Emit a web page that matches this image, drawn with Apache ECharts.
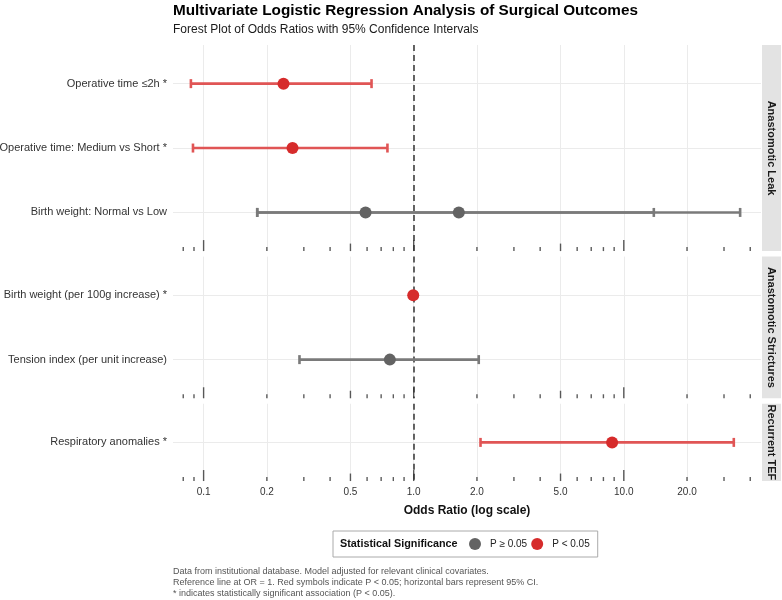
<!DOCTYPE html>
<html>
<head>
<meta charset="utf-8">
<script src="https://cdn.jsdelivr.net/npm/echarts@6/dist/echarts.min.js"></script>
<style>
  html, body { margin: 0; padding: 0; background: #fff; }
  #chart { width: 782px; height: 600px; }
</style>
</head>
<body>
<div id="chart"></div>
<script>
// facets and their row labels (top to bottom)
var facets = ['Anastomotic Leak', 'Anastomotic Strictures', 'Recurrent TEF'];
var facetRows = [
  ['Operative time ≤2h *', 'Operative time: Medium vs Short *', 'Birth weight: Normal vs Low'],
  ['Birth weight (per 100g increase) *', 'Tension index (per unit increase)'],
  ['Respiratory anomalies *']
];

// one entry per estimate
var estFacet = [0, 0, 0, 0, 1, 1, 2];
var estRow = [0, 1, 2, 2, 0, 1, 0];
var oddsRatio = [0.24, 0.265, 0.59, 1.64, 0.995, 0.77, 8.8];
var ciLower = [0.087, 0.089, 0.18, 0.18, 0.99, 0.286, 2.08];
var ciUpper = [0.63, 0.75, 13.9, 35.8, 1.0, 2.04, 33.4];
var significant = [1, 1, 0, 0, 1, 0, 1];

var xTickValues = [0.1, 0.2, 0.5, 1, 2, 5, 10, 20];
var logTickValues = [0.08, 0.09, 0.1, 0.2, 0.3, 0.4, 0.5, 0.6, 0.7, 0.8, 0.9,
  1, 2, 3, 4, 5, 6, 7, 8, 9, 10, 20, 30, 40];

var captionLines = [
  'Data from institutional database. Model adjusted for relevant clinical covariates.',
  'Reference line at OR = 1. Red symbols indicate P < 0.05; horizontal bars represent 95% CI.',
  '* indicates statistically significant association (P < 0.05).'
];

var FONT = '"Liberation Sans", Arial, sans-serif';
var RED = '#d62b2b', RED_BAR = '#e05555';
var GRAY = '#636363', GRAY_BAR = '#7a7a7a';
var xMin = 0.0715, xMax = 45;

// panel layout (height proportional to rows, like facet space = free)
var panelLeft = 173, panelRight = 761;
var unit = 64.4, gap = 5.5, top0 = 45;
var panels = [];
var t = top0;
facetRows.forEach(function (rows) {
  var h = (rows.length + 0.2) * unit;
  panels.push({ top: t, height: h });
  t += h + gap;
});

var chart = echarts.init(document.getElementById('chart'));

var grids = [], xAxes = [], yAxes = [], series = [], graphics = [];

function renderCI(params, api) {
  var y = api.value(2);
  var a = api.coord([api.value(0), y]);
  var b = api.coord([api.value(1), y]);
  var st = { stroke: api.value(3) ? RED_BAR : GRAY_BAR, lineWidth: 2.6 };
  var cap = 4.5;
  return {
    type: 'group',
    children: [
      { type: 'line', shape: { x1: a[0], y1: a[1], x2: b[0], y2: b[1] }, style: st },
      { type: 'line', shape: { x1: a[0], y1: a[1] - cap, x2: a[0], y2: a[1] + cap }, style: st },
      { type: 'line', shape: { x1: b[0], y1: b[1] - cap, x2: b[0], y2: b[1] + cap }, style: st }
    ]
  };
}

panels.forEach(function (p, g) {
  var rows = facetRows[g];
  var n = rows.length;
  var rowIdx = rows.map(function (r, i) { return i; });
  var last = g === panels.length - 1;

  grids.push({
    left: panelLeft, width: panelRight - panelLeft, top: p.top, height: p.height,
    containLabel: false, outerBoundsMode: 'none'
  });

  xAxes.push({
    type: 'log', logBase: 10, gridIndex: g, min: xMin, max: xMax,
    axisLine: { show: false },
    axisTick: { show: false, customValues: xTickValues },
    splitLine: { show: true, lineStyle: { color: '#ebebeb', width: 1 } },
    axisLabel: {
      show: last, customValues: xTickValues, margin: 6,
      fontFamily: FONT, fontSize: 10, color: '#333',
      formatter: function (v) { return v.toFixed(1); }
    },
    name: last ? 'Odds Ratio (log scale)' : '',
    nameLocation: 'middle', nameGap: 24,
    nameTextStyle: { fontFamily: FONT, fontSize: 12, fontWeight: 'bold', color: '#111' }
  });

  yAxes.push({
    type: 'value', gridIndex: g, inverse: true, min: -0.6, max: n - 0.4,
    axisLine: { show: false },
    axisTick: { show: false, customValues: rowIdx },
    splitLine: { show: true, lineStyle: { color: '#ebebeb', width: 1 } },
    axisLabel: {
      customValues: rowIdx, margin: 6,
      fontFamily: FONT, fontSize: 11, color: '#333',
      formatter: function (v) { return rows[Math.round(v)]; }
    }
  });

  // log ticks along the bottom of each panel + reference line at OR = 1
  series.push({
    type: 'scatter', xAxisIndex: g, yAxisIndex: g, silent: true, clip: false, z: 1,
    symbol: 'rect',
    itemStyle: { color: '#333' },
    data: logTickValues.map(function (v) {
      var e = Math.round(Math.log10(v) * 1000) / 1000;
      var len = (e === Math.round(e)) ? 11 : (String(v).charAt(String(v).length - 1) === '5' ? 7.5 : 4);
      return { value: [v, n - 0.4], symbolSize: [1.4, len], symbolOffset: [0, -len / 2] };
    }),
    markLine: {
      silent: true, symbol: 'none', label: { show: false }, z: 1,
      lineStyle: { color: '#333', type: [6, 4], width: 1.5 },
      data: [{ xAxis: 1 }]
    }
  });

  var ciData = [], sigPts = [], nsPts = [];
  oddsRatio.forEach(function (or, i) {
    if (estFacet[i] !== g) return;
    ciData.push([ciLower[i], ciUpper[i], estRow[i], significant[i]]);
    (significant[i] ? sigPts : nsPts).push([or, estRow[i]]);
  });

  series.push({
    type: 'custom', xAxisIndex: g, yAxisIndex: g, z: 2, silent: true,
    encode: { x: [0, 1], y: 2 },
    renderItem: renderCI, data: ciData
  });
  series.push({
    name: 'P ≥ 0.05', type: 'scatter', xAxisIndex: g, yAxisIndex: g, z: 3,
    symbolSize: 12, itemStyle: { color: GRAY, opacity: 1 }, data: nsPts
  });
  series.push({
    name: 'P < 0.05', type: 'scatter', xAxisIndex: g, yAxisIndex: g, z: 3,
    symbolSize: 12, itemStyle: { color: RED, opacity: 1 }, data: sigPts
  });

  // facet strip on the right
  graphics.push({
    type: 'rect', shape: { x: 762, y: p.top, width: 19, height: p.height },
    style: { fill: '#e3e3e3' }
  });
  graphics.push({
    type: 'text', x: 771.5, y: p.top + p.height / 2, rotation: -Math.PI / 2,
    style: {
      text: facets[g], fill: '#1a1a1a', font: 'bold 11px ' + FONT,
      align: 'center', verticalAlign: 'middle'
    }
  });
});

// legend title + caption
graphics.push({
  type: 'text', x: 340, y: 544,
  style: { text: 'Statistical Significance', fill: '#111', font: 'bold 10.8px ' + FONT, verticalAlign: 'middle' }
});
graphics.push({
  type: 'text', x: 173, y: 566,
  style: { text: captionLines.join('\n'), fill: '#555', font: '9px ' + FONT, lineHeight: 11 }
});

var option = {
  animation: false,
  backgroundColor: '#fff',
  title: {
    left: 173, top: 3, padding: 0, itemGap: 6,
    text: 'Multivariate Logistic Regression Analysis of Surgical Outcomes',
    textStyle: { fontFamily: FONT, fontSize: 15.3, fontWeight: 'bold', color: '#000' },
    subtext: 'Forest Plot of Odds Ratios with 95% Confidence Intervals',
    subtextStyle: { fontFamily: FONT, fontSize: 12, color: '#1a1a1a' }
  },
  legend: {
    left: 333, top: 531,
    data: [{ name: 'P ≥ 0.05', icon: 'circle' }, { name: 'P < 0.05', icon: 'circle' }],
    itemWidth: 20, itemHeight: 12, itemGap: 4,
    padding: [7, 8, 7, 136],
    borderColor: '#aaa', borderWidth: 1, borderRadius: 0,
    textStyle: { fontFamily: FONT, fontSize: 10, color: '#222' },
    selectedMode: false
  },
  grid: grids,
  xAxis: xAxes,
  yAxis: yAxes,
  series: series,
  graphic: graphics
};

chart.setOption(option);
window.addEventListener('resize', chart.resize);
</script>
</body>
</html>
